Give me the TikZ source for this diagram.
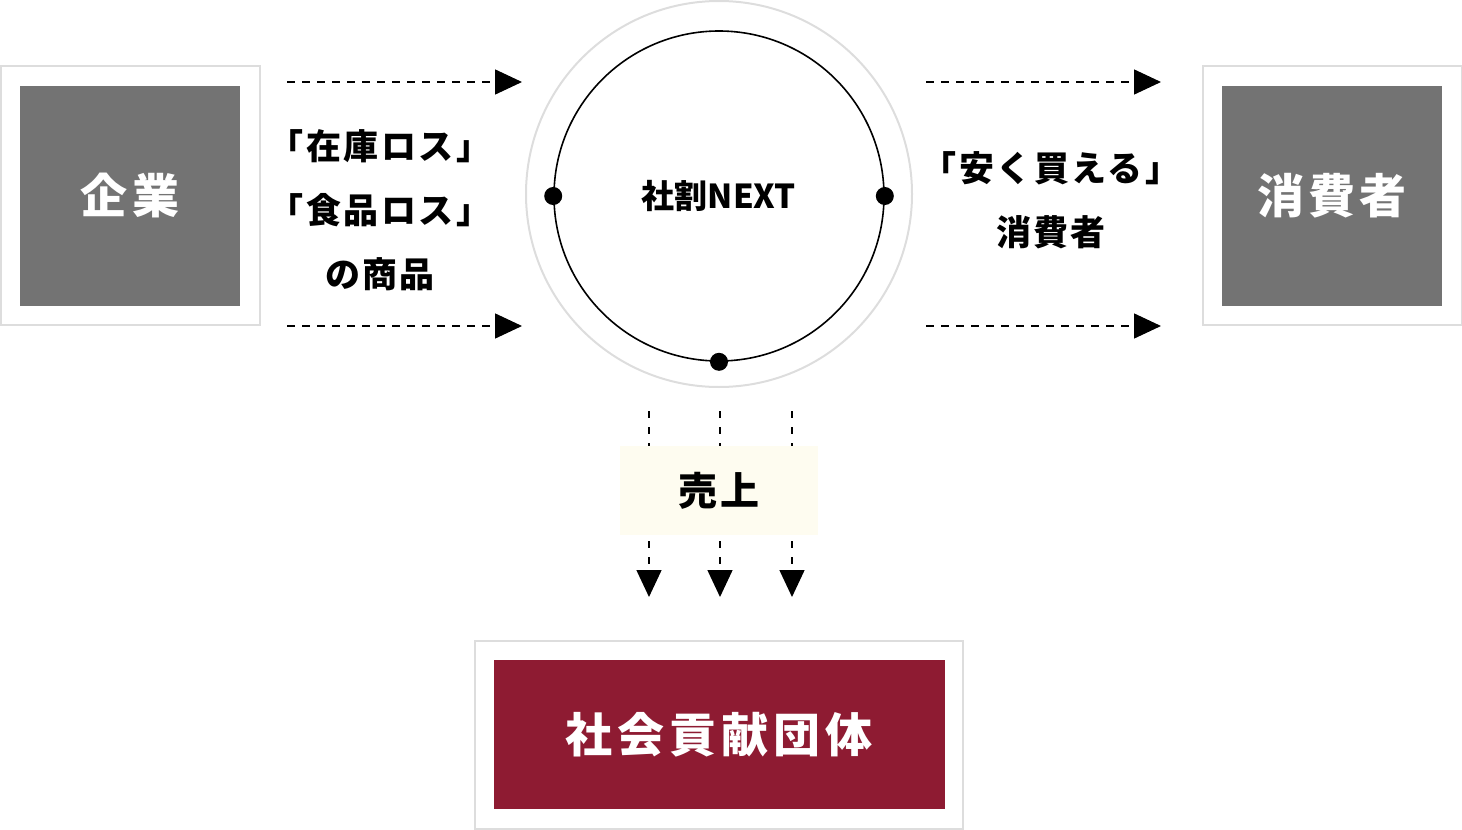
\documentclass[tikz,border=0pt]{standalone}
\usepackage{fontspec}
\setmainfont{Noto Sans CJK JP}
\usepackage{tikz}
\usetikzlibrary{arrows.meta}
\usetikzlibrary{positioning}
\definecolor{boxgray}{HTML}{737373}
\definecolor{framegray}{HTML}{DDDDDD}
\definecolor{wine}{HTML}{8E1B32}
\definecolor{cream}{HTML}{FEFCF0}
\tikzstyle{frame}=[rectangle,draw=framegray,line width=1pt,fill=white,inner sep=0mm,minimum size=129.5pt]
\tikzstyle{actor}=[rectangle,fill=boxgray,text=white,inner sep=0mm,minimum size=110pt,font=\fontsize{23.5}{26}\selectfont\bfseries\addfontfeature{LetterSpace=9}]
\tikzstyle{label}=[align=center,font=\fontsize{17.5}{32}\selectfont\bfseries\addfontfeature{LetterSpace=7}]
\tikzstyle{dot}=[circle,fill=black,inner sep=0mm,minimum size=9pt]
\tikzstyle{flow}=[line width=0.75pt,dash pattern=on 4pt off 3.5pt,-{Triangle[length=13.5pt,width=12.5pt]}]
\tikzstyle{drop}=[line width=0.75pt,dash pattern=on 3.5pt off 4.5pt]
\tikzstyle{dropend}=[drop,-{Triangle[length=13.5pt,width=12.5pt]}]

\begin{document}
\begin{tikzpicture}[x=0.5pt,y=-0.5pt]
        \useasboundingbox (0,0) rectangle (1462,830);
        % left and right actors
        \node[frame] at (130,195.5) (kigyoframe) {};
        \node[actor] at (130,195.5) (kigyo) {企業};
        \node[frame] at (1332,195.5) (shohiframe) {};
        \node[actor] at (1332,195.5) (shohi) {消費者};
        % service circle
        \node[circle,draw=framegray,line width=1pt,minimum size=193pt,inner sep=0mm] at (719,194) (ring) {};
        \node[circle,draw=black,line width=0.8pt,minimum size=165pt,inner sep=0mm,
              font=\fontsize{16.5}{20}\selectfont\bfseries] at (719,196) (next) {社割NEXT};
        \node[dot] at (next.west) (dl) {};
        \node[dot] at (next.east) (dr) {};
        \node[dot] at (next.south) (db) {};
        % labels
        \node[label] at (380,210) (goods) {「在庫ロス」\\「食品ロス」\\の商品};
        \node[label] at (1051,200) (cheap) {「安く買える」\\消費者};
        % horizontal flows
        \coordinate (a1) at (287,82);  \coordinate (b1) at (522,82);
        \coordinate (a2) at (287,326); \coordinate (b2) at (522,326);
        \coordinate (c1) at (926,82);  \coordinate (e1) at (1161,82);
        \coordinate (c2) at (926,326); \coordinate (e2) at (1161,326);
        \draw[flow] (a1) -- (b1);
        \draw[flow] (a2) -- (b2);
        \draw[flow] (c1) -- (e1);
        \draw[flow] (c2) -- (e2);
        % sales
        \node[rectangle,fill=cream,inner sep=0mm,minimum width=99pt,minimum height=44.5pt,
              font=\fontsize{19.5}{22}\selectfont\bfseries\addfontfeature{LetterSpace=10}] at (719,490.5) (uriage) {売上};
        \node[frame,minimum width=244pt,minimum height=94pt] at (719,734.5) (dantaiframe) {};
        \node[rectangle,fill=wine,text=white,inner sep=0mm,minimum width=225.5pt,minimum height=74.5pt,
              font=\fontsize{23.5}{26}\selectfont\bfseries\addfontfeature{LetterSpace=11}] at (719,734.5) (dantai) {社会貢献団体};
        \foreach \x in {649,720,792} {
          \coordinate (t\x) at (\x,411);
          \coordinate (m\x) at (\x,446);
          \coordinate (n\x) at (\x,541);
          \coordinate (p\x) at (\x,597);
          \draw[drop] (t\x) -- (m\x);
          \draw[dropend] (n\x) -- (p\x);
        }
      \end{tikzpicture}
\end{document}
